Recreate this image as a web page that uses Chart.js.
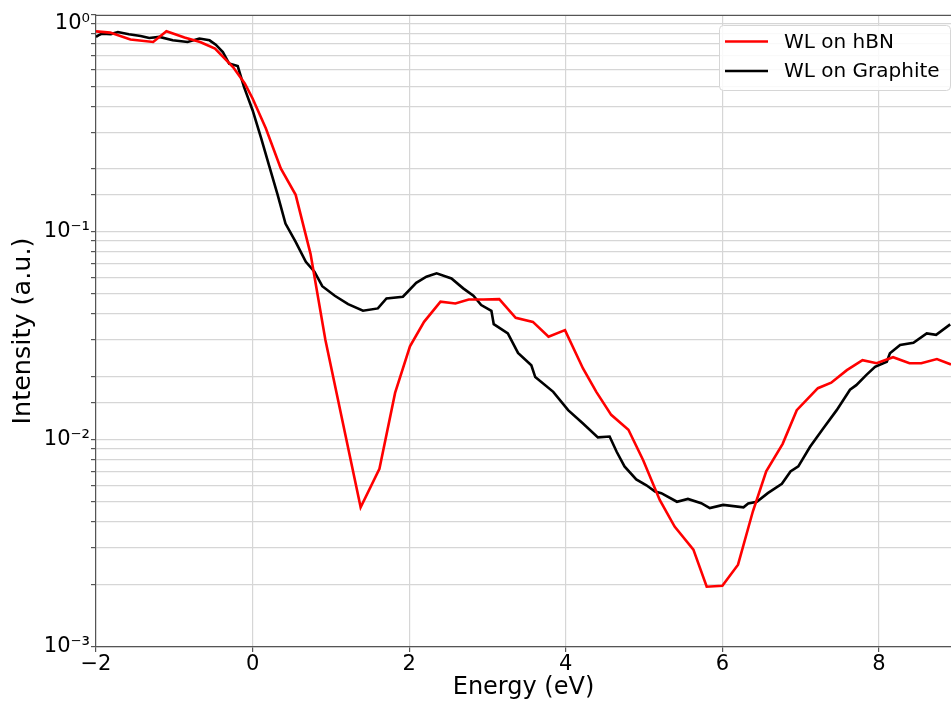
<!DOCTYPE html>
<html>
<head>
<meta charset="utf-8">
<script src="https://cdn.jsdelivr.net/npm/chart.js@4.4.0/dist/chart.umd.min.js"></script>
<style>
	body { margin: 0; background: #fff; }
	#wrap { width: 951px; height: 702px; }
</style>
</head>
<body>
<div id="wrap"><canvas id="wlChart" width="951" height="702"></canvas></div>
<script>
// Données (énergie en eV, intensité en u.a.)
const hbnEnergy = [-2.00, -1.82, -1.56, -1.27, -1.10, -0.87, -0.67, -0.48, -0.25, -0.10,
	0.00, 0.17, 0.36, 0.55, 0.74, 0.93, 1.38, 1.62, 1.82, 2.01,
	2.19, 2.40, 2.59, 2.76, 2.95, 3.15, 3.36, 3.58, 3.78, 3.99,
	4.22, 4.39, 4.58, 4.80, 4.99, 5.20, 5.39, 5.63, 5.80, 6.00,
	6.20, 6.39, 6.56, 6.77, 6.95, 7.22, 7.39, 7.59, 7.79, 7.97,
	8.18, 8.39, 8.54, 8.74, 8.92];
const hbnIntensity = [0.918, 0.905, 0.838, 0.816, 0.918, 0.857, 0.816, 0.758, 0.618, 0.515,
	0.436, 0.313, 0.201, 0.150, 0.078, 0.030, 0.0047, 0.0072, 0.0167, 0.028,
	0.0367, 0.0459, 0.045, 0.047, 0.047, 0.0472, 0.0384, 0.0367, 0.0311, 0.0335,
	0.0219, 0.0169, 0.0131, 0.0111, 0.0079, 0.0051, 0.0038, 0.00294, 0.00195, 0.00197,
	0.00249, 0.0045, 0.0070, 0.0095, 0.0138, 0.0176, 0.0187, 0.0215, 0.024, 0.0232,
	0.0248, 0.0232, 0.0232, 0.0243, 0.0229];

const graphiteEnergy = [-2.00, -1.97, -1.92, -1.81, -1.72, -1.58, -1.43, -1.32, -1.19, -1.02,
	-0.83, -0.68, -0.55, -0.47, -0.38, -0.30, -0.19, -0.11, 0.00, 0.11,
	0.21, 0.32, 0.42, 0.55, 0.68, 0.79, 0.89, 1.05, 1.22, 1.41,
	1.60, 1.71, 1.92, 2.09, 2.22, 2.35, 2.54, 2.69, 2.82, 2.92,
	3.05, 3.08, 3.26, 3.39, 3.56, 3.61, 3.84, 4.03, 4.22, 4.41,
	4.56, 4.65, 4.75, 4.90, 5.03, 5.14, 5.22, 5.42, 5.56, 5.73,
	5.84, 6.01, 6.27, 6.33, 6.44, 6.58, 6.76, 6.87, 6.97, 7.12,
	7.29, 7.46, 7.63, 7.71, 7.84, 7.95, 8.10, 8.14, 8.27, 8.44,
	8.61, 8.73, 8.91];
const graphiteIntensity = [0.863, 0.878, 0.895, 0.890, 0.911, 0.888, 0.872, 0.853, 0.863, 0.831,
	0.816, 0.847, 0.831, 0.792, 0.730, 0.642, 0.625, 0.496, 0.383, 0.280,
	0.208, 0.150, 0.109, 0.089, 0.0714, 0.064, 0.0545, 0.049, 0.0447, 0.0415,
	0.0426, 0.0476, 0.0485, 0.0566, 0.0605, 0.0628, 0.0594, 0.0532, 0.049, 0.0442,
	0.0415, 0.0358, 0.0323, 0.026, 0.0227, 0.0199, 0.0169, 0.0138, 0.0119, 0.0102,
	0.0103, 0.0087, 0.0074, 0.0064, 0.0060, 0.0056, 0.0055, 0.0050, 0.00516, 0.00492,
	0.00466, 0.00483, 0.0047, 0.0049, 0.0050, 0.0055, 0.0061, 0.0070, 0.0074, 0.0092,
	0.0113, 0.0138, 0.0173, 0.0182, 0.0204, 0.0223, 0.0236, 0.0259, 0.0284, 0.0291,
	0.0323, 0.0318, 0.0357];

const seriesLabels = ['WL on hBN', 'WL on Graphite'];
const xTickValues = [-2, 0, 2, 4, 6, 8];

const FONT = 'DejaVu Sans';
const SUP = { '0': '⁰', '1': '¹', '2': '²', '3': '³', '-': '⁻' };

function toPoints(xs, ys) {
	return xs.map((x, i) => ({ x: x, y: ys[i] }));
}

// cadre du haut + légende dessinée à la main (en haut à droite, dans la zone)
const framePlugin = {
	id: 'frame',
	afterDatasetsDraw(chart) {
		const ctx = chart.ctx;
		const a = chart.chartArea;
		ctx.save();
		ctx.strokeStyle = '#555';
		ctx.lineWidth = 1.2;
		ctx.beginPath();
		ctx.moveTo(a.left, a.top + 0.5);
		ctx.lineTo(a.right, a.top + 0.5);
		ctx.stroke();

		// légende
		const bx = 719, by = 25, bw = 231, bh = 65;
		ctx.fillStyle = 'rgba(255,255,255,0.85)';
		ctx.strokeStyle = '#d6d6d6';
		ctx.lineWidth = 1;
		ctx.beginPath();
		ctx.roundRect(bx + 0.5, by + 0.5, bw, bh, 4);
		ctx.fill();
		ctx.stroke();
		ctx.font = '20px "' + FONT + '"';
		ctx.textBaseline = 'middle';
		ctx.textAlign = 'left';
		chart.data.datasets.forEach((ds, i) => {
			const y = 41.5 + i * 29.5;
			ctx.strokeStyle = ds.borderColor;
			ctx.lineWidth = ds.borderWidth;
			ctx.beginPath();
			ctx.moveTo(725, y);
			ctx.lineTo(768, y);
			ctx.stroke();
			ctx.fillStyle = '#000';
			ctx.fillText(ds.label, 784, y + 1);
		});
		ctx.restore();
	}
};

const ctx = document.getElementById('wlChart').getContext('2d');
const wlChart = new Chart(ctx, {
	type: 'line',
	data: {
		datasets: [
			{
				label: seriesLabels[0],
				data: toPoints(hbnEnergy, hbnIntensity),
				borderColor: '#ff0000',
				borderWidth: 2.6,
				pointRadius: 0,
				tension: 0
			},
			{
				label: seriesLabels[1],
				data: toPoints(graphiteEnergy, graphiteIntensity),
				borderColor: '#000000',
				borderWidth: 2.6,
				pointRadius: 0,
				tension: 0
			}
		]
	},
	options: {
		responsive: false,
		animation: false,
		layout: { padding: { top: 15, left: 0, right: 0, bottom: 0 } },
		plugins: {
			legend: { display: false },
			tooltip: { enabled: false }
		},
		scales: {
			x: {
				type: 'linear',
				min: -2,
				max: 8.92,
				afterBuildTicks: scale => {
					scale.ticks = xTickValues.map(v => ({ value: v }));
				},
				afterFit: scale => { scale.height = 55; },
				grid: { color: '#d6d6d6', lineWidth: 1.2, tickLength: 5, tickColor: '#555' },
				border: { color: '#555', width: 1.2 },
				ticks: {
					color: '#000',
					padding: 0,
					font: { family: FONT, size: 21 },
					callback: v => (v < 0 ? '\u2212' + Math.abs(v) : String(v))
				},
				title: {
					display: true,
					text: 'Energy (eV)',
					color: '#000',
					font: { family: FONT, size: 24 },
					padding: { top: 0, bottom: 0 }
				}
			},
			y: {
				type: 'logarithmic',
				min: 0.001,
				max: 1.1,
				afterFit: scale => { scale.width = 96; },
				grid: { color: '#d6d6d6', lineWidth: 1.2, tickLength: 5, tickColor: '#555' },
				border: { color: '#555', width: 1.2 },
				ticks: {
					color: '#000',
					padding: 1,
					autoSkip: false,
					font: { family: FONT, size: 21 },
					callback: v => {
						const l = Math.log10(v);
						const r = Math.round(l);
						if (Math.abs(l - r) > 1e-6) return '';
						return '10' + String(r).split('').map(c => SUP[c]).join('');
					}
				},
				title: {
					display: true,
					text: 'Intensity (a.u.)',
					color: '#000',
					font: { family: FONT, size: 25.5 },
					padding: { top: 8, bottom: 0 }
				}
			}
		}
	},
	plugins: [framePlugin]
});
</script>
</body>
</html>
